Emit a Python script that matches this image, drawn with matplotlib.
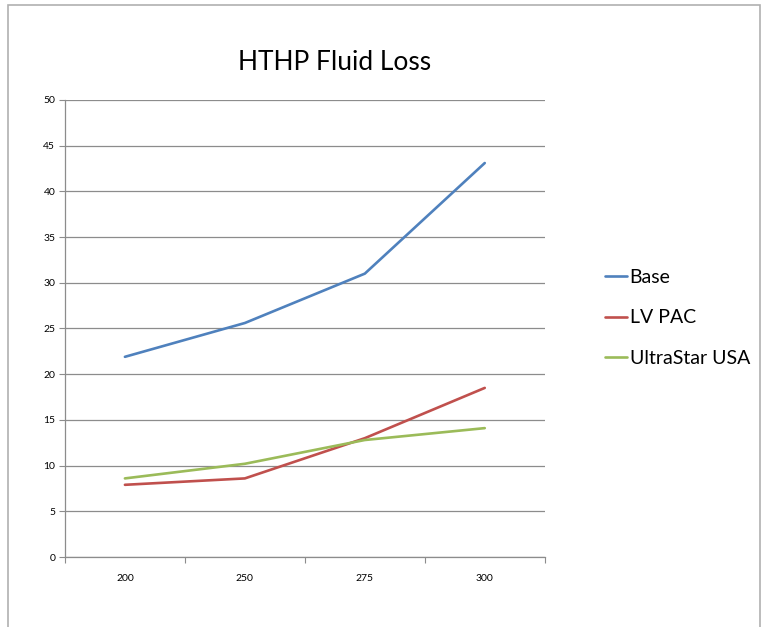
import matplotlib.pyplot as plt
from matplotlib.patches import Rectangle

# Data
categories = ['200', '250', '275', '300']
base = [21.9, 25.6, 31.0, 43.1]
lv_pac = [7.9, 8.6, 13.0, 18.5]
ultrastar = [8.6, 10.2, 12.8, 14.1]

plt.rcParams['font.family'] = ['Lato', 'DejaVu Sans']

fig = plt.figure(figsize=(7.64, 6.27), dpi=100)
ax = fig.add_axes([0.085, 0.1116, 0.628, 0.729])

# outer chart frame (bottom edge runs off the image)
fig.patches.append(Rectangle((8 / 764, -0.05), 752 / 764, 1.05 - 5 / 627,
                             transform=fig.transFigure, fill=False,
                             edgecolor='#b0b0b0', linewidth=1.2))

x = range(len(categories))
ax.plot(x, base, color='#4F81BD', linewidth=1.9, label='Base', solid_capstyle='round')
ax.plot(x, lv_pac, color='#C0504D', linewidth=1.9, label='LV PAC', solid_capstyle='round')
ax.plot(x, ultrastar, color='#9BBB59', linewidth=1.9, label='UltraStar USA', solid_capstyle='round')

ax.set_xlim(-0.5, len(categories) - 0.5)
ax.set_ylim(0, 50)
ax.set_yticks(range(0, 51, 5))
ax.yaxis.grid(True, color='#8c8c8c', linewidth=0.9)
ax.set_axisbelow(True)

# Excel-style: ticks between categories, labels centred on them
ax.set_xticks([i - 0.5 for i in range(len(categories) + 1)])
ax.set_xticklabels([])
ax.set_xticks(list(x), minor=True)
ax.set_xticklabels(categories, minor=True)
ax.tick_params(axis='x', which='minor', length=0, pad=12, labelsize=7.5)
ax.tick_params(axis='x', which='major', length=4, color='#8c8c8c', direction='out')
ax.tick_params(axis='y', length=4, color='#8c8c8c', labelsize=7.5, pad=3)

for s in ['top', 'right']:
    ax.spines[s].set_visible(False)
for s in ['left', 'bottom']:
    ax.spines[s].set_color('#8c8c8c')
    ax.spines[s].set_linewidth(0.9)

fig.text(335 / 764, 1 - 62 / 627, 'HTHP Fluid Loss', ha='center', va='center', fontsize=19)

ax.legend(loc='center left', bbox_to_anchor=(1.09, 0.523), frameon=False,
          fontsize=14, handlelength=1.1, handletextpad=0.15, labelspacing=1.2)

fig.savefig('out.png', dpi=100)
